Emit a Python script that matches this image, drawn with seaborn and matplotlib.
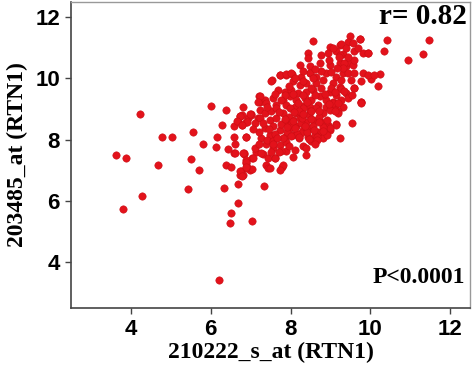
import numpy as np
import pandas as pd
import seaborn as sns
import matplotlib.pyplot as plt

# expression values (RTN1 probes)
x_sparse = [3.63, 3.87, 3.81, 4.22, 4.27, 4.67, 4.77, 5.02, 5.42, 5.51, 5.56, 5.71, 5.80,
            6.01, 6.12, 6.15, 6.21, 6.28, 6.33, 6.39, 6.43, 6.39, 6.50, 6.47, 6.50, 6.58,
            6.59, 6.60, 6.58, 6.67, 6.68, 6.68, 6.74, 6.78, 6.73, 6.75, 6.83, 6.88, 6.88,
            6.93, 6.90, 6.98, 7.00, 7.04, 7.03, 7.04, 7.13, 7.18, 7.20, 7.23, 7.23, 7.33,
            7.31, 7.37, 7.39, 7.43, 7.53, 7.61, 7.73, 7.79, 7.89, 8.04, 8.06, 8.38, 8.49,
            8.56, 8.68, 9.23, 9.49, 9.54, 9.58, 9.73, 9.76, 9.93, 10.02, 10.18, 10.25,
            10.35, 10.41, 10.93, 11.31, 11.48]
y_sparse = [7.49, 7.40, 5.72, 8.84, 6.16, 7.17, 8.08, 8.09, 6.39, 7.36, 8.24, 7.01, 7.85,
            9.10, 7.77, 8.09, 3.41, 8.49, 6.43, 8.97, 7.68, 7.17, 7.12, 5.28, 5.61, 7.56,
            8.10, 7.86, 8.43, 5.92, 6.56, 8.62, 8.77, 8.48, 6.84, 6.99, 7.53, 8.10, 7.23,
            8.70, 7.12, 7.01, 8.83, 5.35, 7.04, 7.39, 7.61, 8.70, 9.41, 8.97, 9.24, 6.49,
            7.53, 9.30, 7.17, 7.06, 9.95, 7.39, 10.10, 7.12, 10.11, 10.15, 7.44, 7.50, 10.19,
            11.23, 8.20, 8.04, 11.37, 8.55, 9.70, 11.29, 9.24, 10.84, 9.97, 9.75, 10.15,
            10.88, 11.26, 10.60, 10.79, 11.26]

x_core = [8.98, 9.23, 9.43, 8.43, 8.77, 8.93, 9.14, 9.31, 8.43, 8.23, 8.48, 8.73, 8.98,
          9.23, 9.39, 7.52, 7.73, 7.89, 8.02, 8.06, 8.27, 8.48, 8.64, 8.89, 9.14, 9.31,
          8.23, 8.39, 8.64, 8.81, 9.06, 9.23, 7.68, 7.85, 8.02, 8.18, 8.39, 8.56, 8.77,
          8.98, 9.14, 9.39, 7.23, 7.56, 7.81, 7.98, 8.14, 8.35, 8.52, 8.73, 8.89, 9.06,
          9.27, 7.18, 7.39, 7.64, 7.89, 8.10, 8.31, 8.48, 8.68, 8.89, 9.10, 9.31,
          9.74, 9.56, 9.27, 9.39, 9.60, 9.81, 9.93, 9.23, 9.43, 9.35, 9.56, 9.31, 9.43,
          9.60, 9.81, 9.93, 10.10, 9.27, 9.52, 9.77, 9.58, 9.27, 9.43, 9.77,
          6.81, 7.02, 6.77, 6.89, 7.10, 7.23, 7.35, 7.52, 7.64, 7.81, 7.98, 8.14, 8.31,
          8.48, 8.64, 8.81, 8.98, 9.18, 7.48, 7.64, 7.85, 8.06, 8.23, 8.39, 8.56, 8.77,
          8.93, 9.14, 7.35, 7.56, 7.73, 7.98, 8.14, 8.31, 8.48, 8.68, 8.98, 6.89, 7.27,
          7.48, 7.64, 7.85, 8.06, 8.27, 8.44, 8.60, 7.39, 7.56, 7.73, 7.89, 7.89, 7.77,
          7.10, 7.27, 6.83, 7.06, 6.89, 7.43, 7.60, 7.48, 7.81, 7.74, 6.89, 6.81, 8.81,
          6.73, 6.98, 6.66, 6.91, 6.77, 6.60, 6.81, 6.74, 6.77, 6.89, 6.89,
          9.06, 9.18, 9.77, 9.18, 9.14, 8.98,
          7.70, 7.95, 8.20, 8.45, 8.70, 8.90, 7.75, 8.00, 8.25, 8.55, 8.80, 7.90, 8.15,
          8.40, 8.65, 8.90, 7.60, 7.45, 7.30, 7.60, 7.85, 8.05, 8.30, 8.60, 8.85, 9.00,
          8.50, 8.30, 8.55, 8.75, 9.00, 9.15, 8.95, 9.20, 9.05, 9.60, 9.45, 9.70, 7.40,
          7.55, 7.20, 7.05, 8.20, 8.50, 8.30, 8.10, 7.95, 7.70, 7.50, 7.20, 9.10, 8.70,
          8.95, 9.35, 9.55, 9.10, 8.10, 7.95, 7.75, 7.40, 8.30, 8.60,
          7.85, 8.05, 8.28, 8.50, 8.72, 7.92, 8.12, 8.35, 8.58, 8.80, 7.80, 8.00, 8.22,
          8.45, 8.66, 8.08, 8.32, 8.52, 8.18, 8.42, 7.65, 7.55, 8.62, 8.38]
y_core = [11.04, 11.10, 11.20, 10.84, 10.77, 10.84, 10.91, 10.80, 10.66, 10.44, 10.39,
          10.50, 10.44, 10.50, 10.39, 9.93, 10.11, 10.15, 10.17, 9.90, 10.06, 10.17, 10.06,
          10.17, 10.06, 10.17, 9.79, 9.84, 9.84, 9.95, 9.84, 9.73, 9.62, 9.57, 9.62, 9.52,
          9.57, 9.62, 9.68, 9.57, 9.46, 9.52, 9.43, 9.35, 9.30, 9.41, 9.30, 9.35, 9.30,
          9.41, 9.30, 9.24, 9.30, 9.24, 9.19, 9.13, 9.13, 9.08, 9.10, 9.08, 9.13, 9.08,
          9.10, 9.08,
          11.28, 11.15, 11.13, 10.99, 10.88, 10.84, 10.84, 10.77, 10.55, 10.50, 10.44,
          10.33, 10.17, 10.19, 10.17, 10.11, 10.11, 9.95, 9.95, 9.93, 9.70, 9.65, 9.35,
          9.22,
          9.08, 8.81, 8.81, 8.59, 8.53, 8.70, 8.86, 8.92, 9.02, 8.86, 9.02, 8.86, 9.02,
          8.92, 9.02, 8.86, 8.97, 8.92, 8.64, 8.70, 8.59, 8.64, 8.70, 8.59, 8.64, 8.59,
          8.48, 8.50, 8.37, 8.43, 8.32, 8.37, 8.43, 8.32, 8.37, 8.26, 8.32, 8.10, 8.04,
          8.15, 8.04, 8.10, 8.15, 8.21, 8.10, 8.15, 7.85, 7.74, 7.83, 7.93, 7.63, 7.63,
          7.72, 7.55, 7.55, 7.39, 7.33, 7.41, 7.41, 7.06, 7.17, 7.01, 7.06, 6.84, 8.04,
          8.77, 8.84, 8.62, 8.59, 8.48, 7.57, 7.55, 6.98, 6.81, 7.28, 7.12,
          9.19, 9.19, 9.21, 8.88, 8.48, 8.37,
          8.90, 8.75, 8.95, 8.80, 8.75, 8.65, 8.50, 8.50, 8.55, 8.45, 8.40, 8.25, 8.20,
          8.25, 8.10, 8.15, 8.20, 8.35, 8.55, 9.50, 9.45, 9.50, 9.45, 9.45, 9.50, 9.70,
          9.70, 9.90, 10.00, 10.25, 10.20, 10.35, 10.60, 10.70, 11.00, 10.60, 10.70,
          11.00, 8.00, 7.95, 8.25, 8.35, 8.05, 7.95, 7.80, 7.65, 7.80, 7.60, 7.60, 7.85,
          8.95, 8.95, 9.15, 9.60, 9.45, 9.55, 10.00, 9.75, 9.30, 9.05, 10.25, 10.30,
          8.68, 8.62, 8.70, 8.66, 8.58, 8.40, 8.38, 8.44, 8.30, 8.28, 8.05, 8.12, 8.08,
          8.02, 7.98, 8.90, 8.85, 8.92, 9.20, 9.22, 8.05, 7.85, 7.85, 7.72]

df = pd.DataFrame({'x': x_sparse + x_core, 'y': y_sparse + y_core})

sns.set_style('white')
plt.rcParams['font.family'] = ['Liberation Sans', 'DejaVu Sans']
plt.rcParams['text.color'] = 'black'
plt.rcParams['axes.labelcolor'] = 'black'
plt.rcParams['xtick.color'] = 'black'
plt.rcParams['ytick.color'] = 'black'

fig = plt.figure(figsize=(4.74, 3.72), dpi=100)
ax = fig.add_axes([0.150, 0.172, 0.842, 0.823])

sns.scatterplot(data=df, x='x', y='y', ax=ax, color='#e3121b', s=28,
                edgecolor='#cc0d14', linewidth=0.4, alpha=1)

ax.set_xlim(2.5, 12.5)
ax.set_ylim(2.5, 12.5)
ax.set_xticks([4, 6, 8, 10, 12])
ax.set_yticks([4, 6, 8, 10, 12])
ax.tick_params(axis='both', direction='out', length=4, width=1, color='#444444',
               labelsize=16, pad=4, left=True, bottom=True, labelcolor='black')
for lab in ax.get_xticklabels() + ax.get_yticklabels():
    lab.set_fontweight('bold')

for side in ['left', 'bottom']:
    ax.spines[side].set_color('#444444')
    ax.spines[side].set_linewidth(1.2)
for side in ['top', 'right']:
    ax.spines[side].set_color('#999999')
    ax.spines[side].set_linewidth(1.0)

serif = ['Liberation Serif', 'DejaVu Serif']
ax.set_xlabel('210222_s_at (RTN1)', family=serif, fontweight='bold', fontsize=17,
              labelpad=1, color='black')
ax.set_ylabel('203485_at (RTN1)', family=serif, fontweight='bold', fontsize=17,
              labelpad=5, color='black')

ax.text(0.992, 0.997, 'r= 0.82', transform=ax.transAxes, ha='right', va='top',
        family=serif, fontweight='bold', fontsize=21, color='black')
ax.text(0.988, 0.065, 'P<0.0001', transform=ax.transAxes, ha='right', va='bottom',
        family=serif, fontweight='bold', fontsize=17, color='black')

plt.savefig('out.png', dpi=100)
